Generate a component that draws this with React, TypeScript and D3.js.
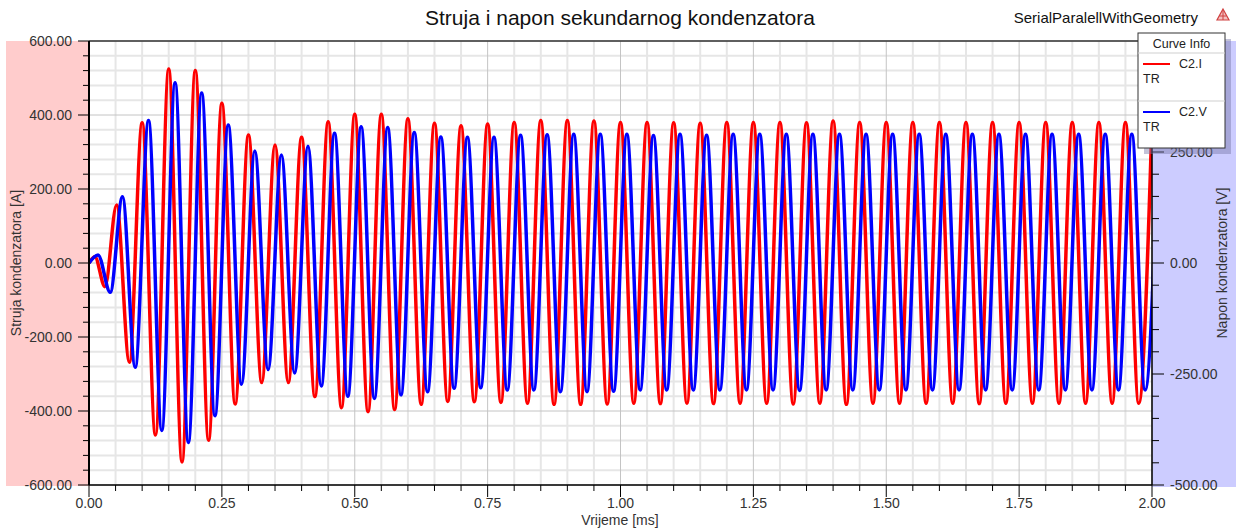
import React from 'react';
import * as d3 from 'd3';

const W = 1237;
const H = 531;

const titleText = 'Struja i napon sekundarnog kondenzatora';
const projectName = 'SerialParalellWithGeometry';
const xLabel = 'Vrijeme [ms]';
const yLeftLabel = 'Struja kondenzatora [A]';
const yRightLabel = 'Napon kondenzatora [V]';

const xTickValues = [0, 0.25, 0.5, 0.75, 1.0, 1.25, 1.5, 1.75, 2.0];
const xTickLabels = ['0.00', '0.25', '0.50', '0.75', '1.00', '1.25', '1.50', '1.75', '2.00'];
const leftTickValues = [-600, -400, -200, 0, 200, 400, 600];
const leftTickLabels = ['-600.00', '-400.00', '-200.00', '0.00', '200.00', '400.00', '600.00'];
// the 500.00 label sits behind the legend box in the reference, so it is not drawn
const rightTickValues = [-500, -250, 0, 250];
const rightTickLabels = ['-500.00', '-250.00', '0.00', '250.00'];

const legendTitle = 'Curve Info';
const seriesNames = ['C2.I', 'C2.V'];
const seriesSub = ['TR', 'TR'];
const seriesColors = ['#ff0000', '#0000ff'];

// C2.I current extrema (time in ms, value in A)
const iTime = [
  0, 0.011, 0.03, 0.052, 0.076,
  0.1, 0.125, 0.15, 0.175, 0.2, 0.225, 0.25, 0.275, 0.3, 0.325,
  0.35, 0.375, 0.4, 0.425, 0.45, 0.475, 0.5, 0.525, 0.55, 0.575,
  0.6, 0.625, 0.65, 0.675, 0.7, 0.725, 0.75, 0.775, 0.8, 0.825,
  0.85, 0.875, 0.9, 0.925, 0.95, 0.975,
  1.0, 1.025, 1.05, 1.075, 1.1, 1.125, 1.15, 1.175, 1.2, 1.225,
  1.25, 1.275, 1.3, 1.325, 1.35, 1.375, 1.4, 1.425, 1.45, 1.475,
  1.5, 1.525, 1.55, 1.575, 1.6, 1.625, 1.65, 1.675, 1.7, 1.725,
  1.75, 1.775, 1.8, 1.825, 1.85, 1.875, 1.9, 1.925, 1.95, 1.975,
  2.0,
];
const iValue = [
  0, 17, -64, 157, -268,
  379, -465, 524, -538, 520, -479, 432, -381, 346, -323,
  319, -323, 340, -361, 382, -391, 402, -402, 402, -396,
  390, -382, 378, -374, 371, -375, 376, -377, 380, -379,
  385, -382, 385, -382, 384, -381,
  380, -379, 380, -380, 379, -379, 378, -380, 380, -379,
  380, -379, 380, -381, 379, -379, 384, -382, 380, -379,
  380, -379, 380, -379, 380, -379, 380, -380, 380, -379,
  380, -379, 380, -379, 380, -379, 380, -379, 380, -379,
  380,
];

// C2.V voltage extrema (time in ms, value in V)
const vTime = [
  0, 0.017, 0.04, 0.063, 0.087,
  0.112, 0.137, 0.162, 0.187, 0.212, 0.237, 0.262, 0.287, 0.312, 0.337,
  0.362, 0.387, 0.412, 0.437, 0.462, 0.487, 0.512, 0.537, 0.562, 0.587,
  0.612, 0.637, 0.662, 0.687, 0.712, 0.737, 0.762, 0.787, 0.812, 0.837,
  0.862, 0.887, 0.912, 0.937, 0.962, 0.987,
  1.012, 1.037, 1.062, 1.087, 1.112, 1.137, 1.162, 1.187, 1.212, 1.237,
  1.262, 1.287, 1.312, 1.337, 1.362, 1.387, 1.412, 1.437, 1.462, 1.487,
  1.512, 1.537, 1.562, 1.587, 1.612, 1.637, 1.662, 1.687, 1.712, 1.737,
  1.762, 1.787, 1.812, 1.837, 1.862, 1.887, 1.912, 1.937, 1.962, 1.987,
  2.012,
];
const vValue = [
  0, 18, -66, 149, -235,
  321, -377, 406, -404, 383, -344, 311, -273, 252, -240,
  243, -248, 263, -277, 292, -300, 307, -305, 305, -297,
  294, -290, 284, -282, 283, -281, 283, -286, 288, -286,
  289, -290, 290, -290, 290, -289,
  290, -286, 287, -286, 290, -286, 288, -286, 290, -286,
  290, -286, 290, -287, 290, -286, 290, -286, 290, -286,
  290, -286, 290, -286, 290, -286, 290, -286, 290, -286,
  290, -286, 290, -286, 290, -286, 290, -286, 290, -286,
  290,
];

const FONT = "'Liberation Sans', Arial, Helvetica, sans-serif";

export default function App() {
  const left = 89;
  const right = 1152;
  const top = 41;
  const bottom = 485;

  const x = d3.scaleLinear().domain([0, 2]).range([left, right]);
  const yL = d3.scaleLinear().domain([-600, 600]).range([bottom, top]);
  const yR = d3.scaleLinear().domain([-500, 500]).range([bottom, top]);

  const xMinor = d3.range(0, 2.0001, 0.05);
  const yLMinor = d3.range(-600, 600.001, 40);
  const yRMinor = d3.range(-500, 500.001, 50);

  const isMajorX = (v: number) => Math.abs(v / 0.25 - Math.round(v / 0.25)) < 1e-6;
  const isMajorYL = (v: number) => Math.abs(v / 200 - Math.round(v / 200)) < 1e-6;
  const isMajorYR = (v: number) => Math.abs(v / 250 - Math.round(v / 250)) < 1e-6;

  const iData = iTime.map((t, k) => [t, iValue[k]] as [number, number]);
  const vData = vTime.map((t, k) => [t, vValue[k]] as [number, number]);

  const lineI = d3
    .line<[number, number]>()
    .x((d) => x(d[0]))
    .y((d) => yL(d[1]))
    .curve(d3.curveMonotoneX);
  const lineV = d3
    .line<[number, number]>()
    .x((d) => x(d[0]))
    .y((d) => yR(d[1]))
    .curve(d3.curveMonotoneX);

  // legend geometry
  const lgX = 1138;
  const lgY = 33;
  const lgW = 87;
  const lgH = 115;

  return (
    <svg
      width={W}
      height={H}
      viewBox={`0 0 ${W} ${H}`}
      style={{ position: 'absolute', left: 0, top: 0, background: '#fff', fontFamily: FONT }}
    >
      <defs>
        <clipPath id="plotClip">
          <rect x={left} y={top} width={right - left} height={bottom - top} />
        </clipPath>
      </defs>
      <rect x={0} y={0} width={W} height={H} fill="#fff" />

      {/* axis side shading */}
      <rect x={6} y={top} width={left - 6} height={bottom - top + 1} fill="#ffcccc" />
      <rect x={right} y={top} width={1236 - right} height={bottom - top + 2} fill="#ccccff" />

      {/* grid */}
      <g>
        {xMinor.filter((v) => !isMajorX(v)).map((v, k) => (
          <line key={'gx' + k} x1={x(v)} x2={x(v)} y1={top} y2={bottom} stroke="#e6e6e6" strokeWidth={2} />
        ))}
        {yLMinor.filter((v) => !isMajorYL(v)).map((v, k) => (
          <line key={'gy' + k} x1={left} x2={right} y1={yL(v)} y2={yL(v)} stroke="#e6e6e6" strokeWidth={2} />
        ))}
        {xMinor.filter((v) => isMajorX(v)).map((v, k) => (
          <line key={'gX' + k} x1={x(v)} x2={x(v)} y1={top} y2={bottom} stroke="#c4c4c4" strokeWidth={1} />
        ))}
        {yLMinor.filter((v) => isMajorYL(v)).map((v, k) => (
          <line key={'gY' + k} x1={left} x2={right} y1={yL(v)} y2={yL(v)} stroke="#c4c4c4" strokeWidth={1} />
        ))}
      </g>

      {/* curves */}
      <g clipPath="url(#plotClip)">
        <path d={lineI(iData) || ''} fill="none" stroke={seriesColors[0]} strokeWidth={3.5} strokeLinejoin="round" />
        <path d={lineV(vData) || ''} fill="none" stroke={seriesColors[1]} strokeWidth={3.5} strokeLinejoin="round" />
      </g>

      {/* plot frame top */}
      <line x1={left} x2={right} y1={top} y2={top} stroke="#333" strokeWidth={1.5} />

      {/* left axis */}
      <line x1={left} x2={left} y1={top} y2={bottom} stroke="#000" strokeWidth={2} />
      {yLMinor.map((v, k) => (
        <line
          key={'lt' + k}
          x1={left - (isMajorYL(v) ? 11 : 6)}
          x2={left}
          y1={yL(v)}
          y2={yL(v)}
          stroke="#000"
          strokeWidth={1}
        />
      ))}
      {leftTickValues.map((v, k) => (
        <text key={'ll' + k} x={72} y={yL(v) + 5} textAnchor="end" fontSize={14} fill="#333">
          {leftTickLabels[k]}
        </text>
      ))}

      {/* right axis */}
      <line x1={right} x2={right} y1={top} y2={bottom} stroke="#000" strokeWidth={1.5} />
      {yRMinor.map((v, k) => (
        <line
          key={'rt' + k}
          x1={right}
          x2={right + (isMajorYR(v) ? 12 : 7)}
          y1={yR(v)}
          y2={yR(v)}
          stroke="#000"
          strokeWidth={1}
        />
      ))}
      {rightTickValues.map((v, k) => (
        <text key={'rl' + k} x={1170} y={yR(v) + 5} textAnchor="start" fontSize={14} fill="#333">
          {rightTickLabels[k]}
        </text>
      ))}

      {/* bottom axis */}
      <line x1={left} x2={right} y1={bottom} y2={bottom} stroke="#000" strokeWidth={1.5} />
      {xMinor.map((v, k) => (
        <line
          key={'bt' + k}
          x1={x(v)}
          x2={x(v)}
          y1={bottom}
          y2={bottom + (isMajorX(v) ? 12 : 6)}
          stroke="#000"
          strokeWidth={1}
        />
      ))}
      {xTickValues.map((v, k) => (
        <text key={'bl' + k} x={x(v)} y={508} textAnchor="middle" fontSize={14} fill="#333">
          {xTickLabels[k]}
        </text>
      ))}

      {/* axis titles */}
      <text x={620} y={525} textAnchor="middle" fontSize={14} fill="#333">
        {xLabel}
      </text>
      <text
        transform={`translate(21, ${(top + bottom) / 2}) rotate(-90)`}
        textAnchor="middle"
        fontSize={14}
        fill="#333"
      >
        {yLeftLabel}
      </text>
      <text
        transform={`translate(1227, ${(top + bottom) / 2}) rotate(-90)`}
        textAnchor="middle"
        fontSize={14}
        fill="#333"
      >
        {yRightLabel}
      </text>

      {/* titles */}
      <text x={620} y={25} textAnchor="middle" fontSize={21} fill="#111">
        {titleText}
      </text>
      <text x={1198} y={23} textAnchor="end" fontSize={15} fill="#111">
        {projectName}
      </text>
      <g>
        <path d="M1223,9 L1229,20 L1217,20 Z" fill="#f3c0c0" stroke="#d04040" strokeWidth={1.2} />
        <line x1={1223} x2={1223} y1={10} y2={20} stroke="#d04040" strokeWidth={1} />
        <line x1={1219.5} x2={1226.5} y1={16} y2={16} stroke="#d04040" strokeWidth={1} />
      </g>

      {/* legend */}
      <rect x={lgX + 6} y={lgY + 6} width={lgW} height={lgH} fill="#7878a8" opacity={0.45} />
      <rect x={lgX} y={lgY} width={lgW} height={lgH} fill="#fff" stroke="#333" strokeWidth={1} />
      <text x={lgX + lgW / 2} y={lgY + 15} textAnchor="middle" fontSize={12.5} fill="#222">
        {legendTitle}
      </text>
      <line x1={lgX} x2={lgX + lgW} y1={lgY + 20} y2={lgY + 20} stroke="#cfcfcf" strokeWidth={1} />
      {seriesNames.map((name, k) => {
        const base = lgY + 20 + k * 48;
        return (
          <g key={'lg' + k}>
            <line x1={lgX + 5} x2={lgX + 32} y1={base + 11} y2={base + 11} stroke={seriesColors[k]} strokeWidth={2} />
            <text x={lgX + 41} y={base + 15} fontSize={12.5} fill="#222">
              {name}
            </text>
            <text x={lgX + 5} y={base + 30} fontSize={12.5} fill="#222">
              {seriesSub[k]}
            </text>
            {k === 0 && (
              <line x1={lgX} x2={lgX + lgW} y1={base + 48} y2={base + 48} stroke="#cfcfcf" strokeWidth={1} />
            )}
          </g>
        );
      })}
    </svg>
  );
}
